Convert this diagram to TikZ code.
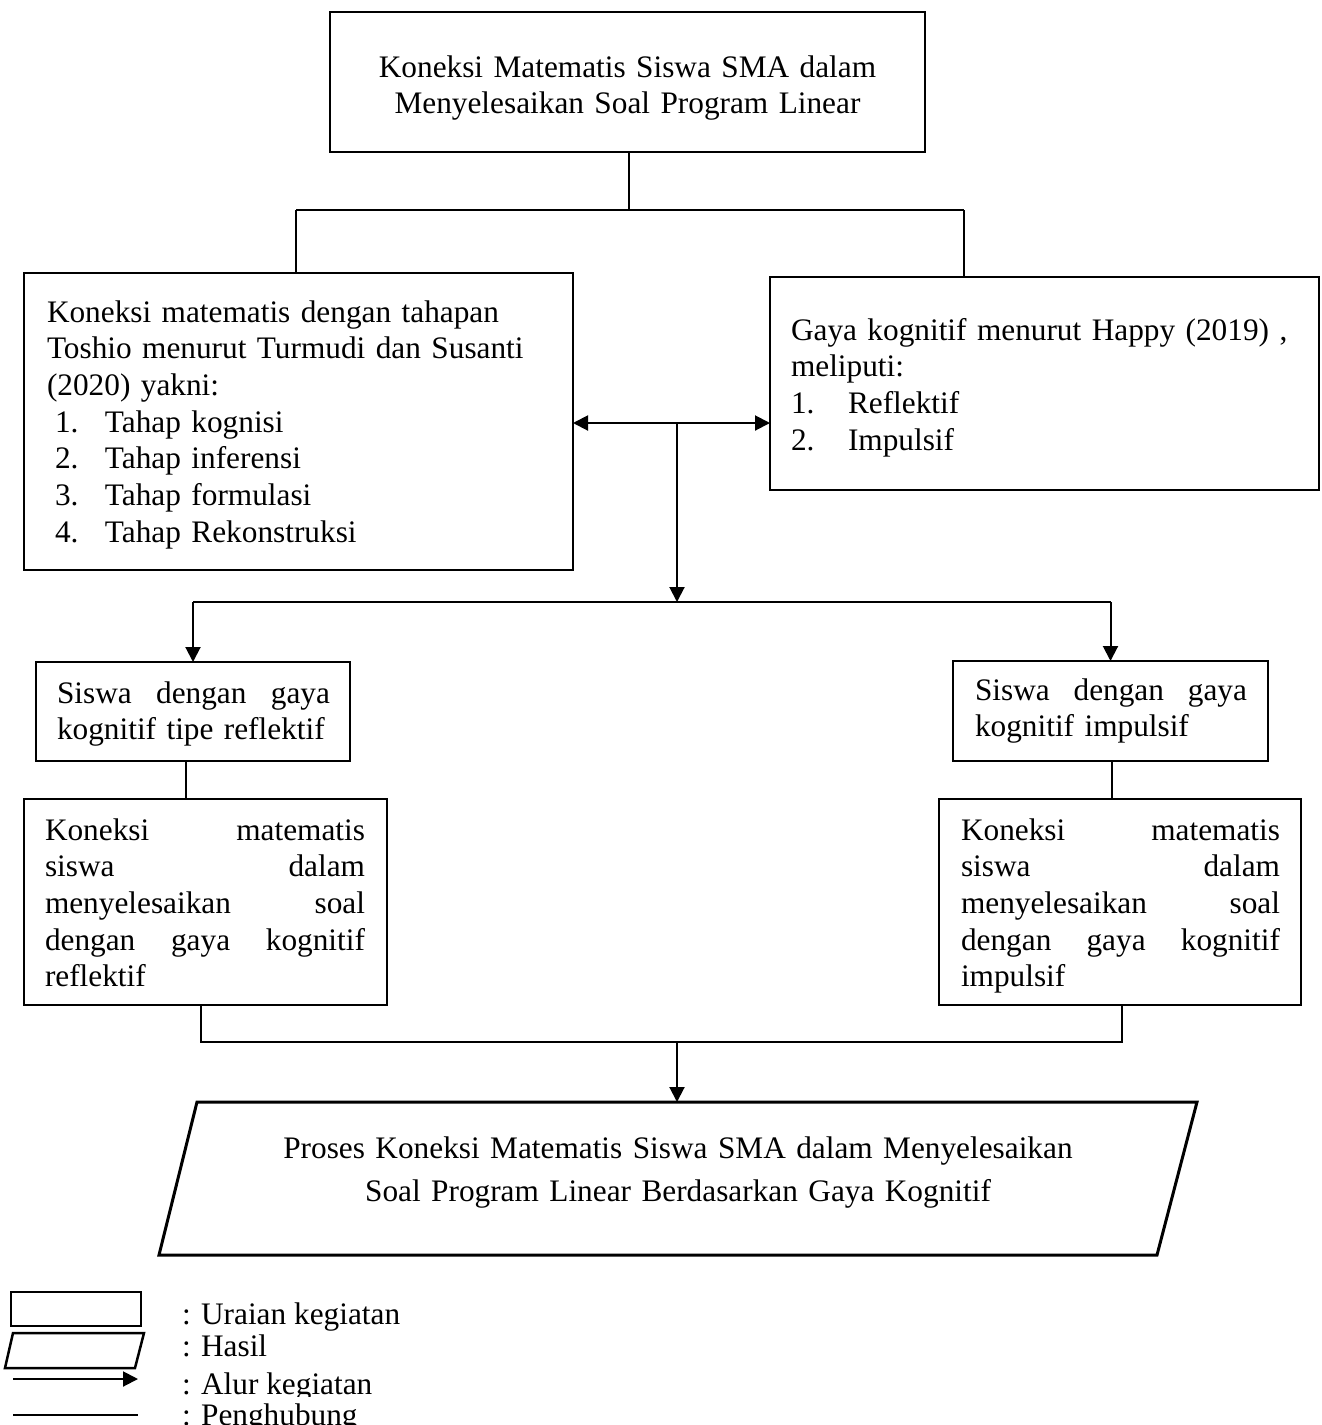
\documentclass[tikz,border=0pt]{standalone}
\usepackage{fontspec}
\setmainfont{Liberation Serif}
\usetikzlibrary{arrows.meta}

\tikzset{
  boxline/.style={draw, line width=2.5pt, inner sep=0pt, outer sep=0pt, anchor=north west},
  conn/.style={line width=2pt},
  flow/.style={line width=2pt, -{Triangle[length=15pt,width=15pt]}},
  flowboth/.style={line width=2pt, {Triangle[length=15pt,width=15pt]}-{Triangle[length=15pt,width=15pt]}},
  txt/.style={inner sep=0pt, outer sep=0pt, font=\fontsize{31.3pt}{36.7pt}\selectfont},
}

\begin{document}
\begin{tikzpicture}[x=1pt, y=-1pt]
\fill[white] (0,0) rectangle (1322,1425);
\useasboundingbox (0,0) rectangle (1322,1425);

% ---- boxes ----
\node[boxline, minimum width=595pt, minimum height=140pt] (top)  at (330,12)  {};
\node[boxline, minimum width=549pt, minimum height=297pt] (lbox) at (24,273)  {};
\node[boxline, minimum width=549pt, minimum height=213pt] (rbox) at (770,277) {};
\node[boxline, minimum width=314pt, minimum height=99pt]  (lsm)  at (36,662)  {};
\node[boxline, minimum width=315pt, minimum height=100pt] (rsm)  at (953,661) {};
\node[boxline, minimum width=363pt, minimum height=206pt] (lk)   at (24,799)  {};
\node[boxline, minimum width=362pt, minimum height=206pt] (rk)   at (939,799) {};

% ---- result parallelogram ----
\coordinate (p1) at (197,1102);
\coordinate (p2) at (1197,1102);
\coordinate (p3) at (1157,1255);
\coordinate (p4) at (159,1255);
\coordinate (ptop) at (677,1102);
\draw[line width=3pt, line join=miter] (p1) -- (p2) -- (p3) -- (p4) -- cycle;

% ---- texts ----
\node[txt, text width=595pt, align=center, anchor=base] (toptxt) at (627.5,77)
  {Koneksi Matematis Siswa SMA dalam\\Menyelesaikan Soal Program Linear};

\node[txt, text width=515pt, align=left, anchor=base west] (ltxt) at (47,322)
  {Koneksi matematis dengan tahapan\\
   Toshio menurut Turmudi dan Susanti\\
   (2020) yakni:\\
   \hspace*{8pt}\makebox[50pt][l]{1.}Tahap kognisi\\
   \hspace*{8pt}\makebox[50pt][l]{2.}Tahap inferensi\\
   \hspace*{8pt}\makebox[50pt][l]{3.}Tahap formulasi\\
   \hspace*{8pt}\makebox[50pt][l]{4.}Tahap Rekonstruksi};

\node[txt, text width=520pt, align=left, anchor=base west] (rtxt) at (791,340)
  {Gaya kognitif menurut Happy (2019) ,\\
   meliputi:\\
   \makebox[57pt][l]{1.}Reflektif\\
   \makebox[57pt][l]{2.}Impulsif};

\node[txt, text width=273pt, align=left, anchor=base west] (lsmtxt) at (57,703)
  {\makebox[273pt][s]{Siswa\hfill dengan\hfill gaya}\\
   kognitif tipe reflektif};

\node[txt, text width=272pt, align=left, anchor=base west] (rsmtxt) at (975,700)
  {\makebox[272pt][s]{Siswa\hfill dengan\hfill gaya}\\
   kognitif impulsif};

\node[txt, text width=320pt, align=left, anchor=base west] (lktxt) at (45,840)
  {\makebox[320pt][s]{Koneksi\hfill matematis}\\
   \makebox[320pt][s]{siswa\hfill dalam}\\
   \makebox[320pt][s]{menyelesaikan\hfill soal}\\
   \makebox[320pt][s]{dengan\hfill gaya\hfill kognitif}\\
   reflektif};

\node[txt, text width=319pt, align=left, anchor=base west] (rktxt) at (961,840)
  {\makebox[319pt][s]{Koneksi\hfill matematis}\\
   \makebox[319pt][s]{siswa\hfill dalam}\\
   \makebox[319pt][s]{menyelesaikan\hfill soal}\\
   \makebox[319pt][s]{dengan\hfill gaya\hfill kognitif}\\
   impulsif};

\node[txt, font=\fontsize{31.3pt}{43pt}\selectfont, text width=900pt, align=center, anchor=base] (restxt) at (678,1158)
  {Proses Koneksi Matematis Siswa SMA dalam Menyelesaikan\\
   Soal Program Linear Berdasarkan Gaya Kognitif};

% ---- connectors ----
\coordinate (jt) at (629,210);
\coordinate (jl) at (296,210);
\coordinate (jr) at (964,210);
\draw[conn] (jt |- top.south) -- (jt);
\draw[conn] (jl) -- (jr);
\draw[conn] (jl) -- (jl |- lbox.north);
\draw[conn] (jr) -- (jr |- rbox.north);

\coordinate (hub) at (677,423);
\coordinate (bus) at (677,602);
\draw[flowboth] (lbox.east |- hub) -- (rbox.west |- hub);
\draw[flow] (hub) -- (bus);
\draw[conn] (lsm.north |- bus) -- (rsm.north |- bus);
\draw[flow] (lsm.north |- bus) -- (lsm.north);
\draw[flow] (rsm.north |- bus) -- (rsm.north);

\draw[conn] ([xshift=-7pt]lsm.south) -- ([xshift=-7pt]lsm.south |- lk.north);
\draw[conn] ([xshift=1.5pt]rsm.south) -- ([xshift=1.5pt]rsm.south |- rk.north);

\coordinate (bl) at (201,1042);
\coordinate (br) at (1122,1042);
\draw[conn] (bl |- lk.south) -- (bl) -- (br) -- (br |- rk.south);
\draw[flow] (ptop |- bl) -- (ptop);

% ---- legend ----
\node[boxline, line width=2.5pt, minimum width=130pt, minimum height=34pt] (legbox) at (11,1292) {};
\coordinate (q1) at (13,1333);
\coordinate (q2) at (144,1333);
\coordinate (q3) at (135,1368);
\coordinate (q4) at (5,1368);
\draw[line width=2.5pt, line join=miter] (q1) -- (q2) -- (q3) -- (q4) -- cycle;
\coordinate (la1) at (13,1379);
\coordinate (la2) at (138,1379);
\draw[flow] (la1) -- (la2);
\coordinate (lc1) at (13,1415);
\coordinate (lc2) at (138,1415);
\draw[conn] (lc1) -- (lc2);

\node[txt, anchor=base west] (leg1) at (182,1324) {: Uraian kegiatan};
\node[txt, anchor=base west] (leg2) at (182,1356) {: Hasil};
\node[txt, anchor=base west] (leg3) at (182,1394) {: Alur kegiatan};
\node[txt, anchor=base west, fill=white, inner ysep=6pt] (leg4) at (182,1425) {: Penghubung};
\end{tikzpicture}
\end{document}
